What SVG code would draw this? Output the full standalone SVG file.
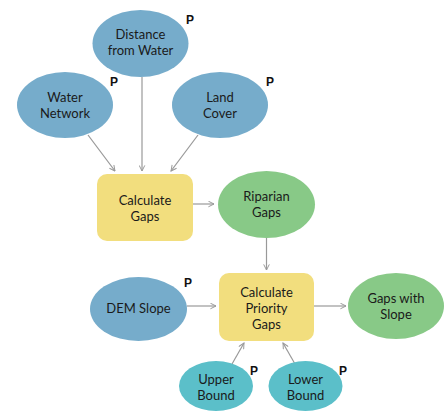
<svg xmlns="http://www.w3.org/2000/svg" width="446" height="412" viewBox="0 0 446 412">
<style>
.lbl{font-family:Lato,"Noto Sans",sans-serif;font-size:13px;fill:#1a1a1a;text-anchor:middle}
.p{font-family:"Liberation Sans",Arial,sans-serif;font-size:12px;font-weight:bold;fill:#111}
.in{fill:#76ACCB}
.out{fill:#88C987}
.tool{fill:#F2DE7E}
.val{fill:#5BBFC9}
.c line{stroke:#999;stroke-width:1.2;marker-end:url(#ah)}
</style>
<defs>
<marker id="ah" viewBox="0 0 10 10" refX="9" refY="5" markerWidth="7" markerHeight="7" markerUnits="userSpaceOnUse" orient="auto">
<path d="M1,1 L9,5 L1,9" fill="none" stroke="#999" stroke-width="1.4"/>
</marker>
</defs>
<rect width="446" height="412" fill="#fff"/>
<g class="c">
<line x1="88" y1="135" x2="115" y2="171"/>
<line x1="142" y1="77" x2="142" y2="171"/>
<line x1="198" y1="135" x2="171" y2="171"/>
<line x1="193" y1="204" x2="214" y2="204"/>
<line x1="266.5" y1="238" x2="266.5" y2="270"/>
<line x1="187" y1="306" x2="216" y2="306"/>
<line x1="314" y1="306" x2="346" y2="306"/>
<line x1="232" y1="364" x2="244" y2="343"/>
<line x1="295" y1="364" x2="283" y2="343"/>
</g>
<g id="distance">
<ellipse class="in" cx="140.5" cy="43.5" rx="48" ry="33.5"/>
<text class="lbl" x="140.5" y="39">Distance</text>
<text class="lbl" x="140.5" y="55">from Water</text>
<text class="p" x="186" y="24">P</text>
</g>
<g id="waternet">
<ellipse class="in" cx="65" cy="105" rx="48" ry="33"/>
<text class="lbl" x="65" y="102">Water</text>
<text class="lbl" x="65" y="118">Network</text>
<text class="p" x="110" y="86">P</text>
</g>
<g id="landcover">
<ellipse class="in" cx="220" cy="105" rx="48" ry="33"/>
<text class="lbl" x="220" y="102">Land</text>
<text class="lbl" x="220" y="118">Cover</text>
<text class="p" x="266" y="86">P</text>
</g>
<g id="calcgaps">
<rect class="tool" x="97" y="174" width="96" height="67" rx="10"/>
<text class="lbl" x="145" y="205">Calculate</text>
<text class="lbl" x="145" y="221">Gaps</text>
</g>
<g id="riparian">
<ellipse class="out" cx="266.5" cy="204.5" rx="48.5" ry="33.5"/>
<text class="lbl" x="266.5" y="201">Riparian</text>
<text class="lbl" x="266.5" y="217">Gaps</text>
</g>
<g id="dem">
<ellipse class="in" cx="138.5" cy="309" rx="48.5" ry="32"/>
<text class="lbl" x="138.5" y="313">DEM Slope</text>
<text class="p" x="184" y="287">P</text>
</g>
<g id="calcprio">
<rect class="tool" x="219" y="273" width="95" height="68" rx="10"/>
<text class="lbl" x="266.5" y="297">Calculate</text>
<text class="lbl" x="266.5" y="313">Priority</text>
<text class="lbl" x="266.5" y="329">Gaps</text>
</g>
<g id="gapsslope">
<ellipse class="out" cx="396" cy="306" rx="48" ry="33"/>
<text class="lbl" x="396" y="303">Gaps with</text>
<text class="lbl" x="396" y="319">Slope</text>
</g>
<g id="upper">
<ellipse class="val" cx="216" cy="386" rx="37" ry="25"/>
<text class="lbl" x="216" y="384">Upper</text>
<text class="lbl" x="216" y="400">Bound</text>
<text class="p" x="250" y="375">P</text>
</g>
<g id="lower">
<ellipse class="val" cx="305.5" cy="386" rx="37" ry="25"/>
<text class="lbl" x="305.5" y="384">Lower</text>
<text class="lbl" x="305.5" y="400">Bound</text>
<text class="p" x="339" y="375">P</text>
</g>
</svg>
